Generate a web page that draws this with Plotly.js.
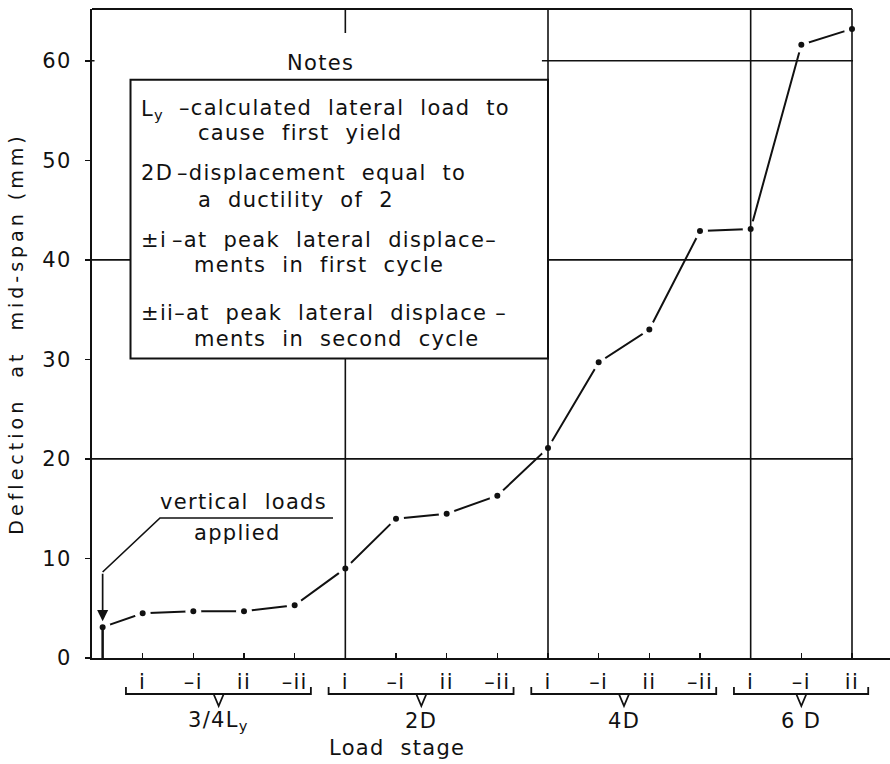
<!DOCTYPE html>
<html><head><meta charset="utf-8">
<script src="https://cdn.plot.ly/plotly-3.0.1.min.js"></script>
<style>
html,body{margin:0;padding:0;background:#fff;}
#chart{width:890px;height:764px;}
svg text{letter-spacing:1.3px;}
svg text.ytitle{letter-spacing:4px;}
</style></head><body><div id="chart"></div>
<script>
// ---- data ----
const stagePos = [1,2,3,4,5,6,7,8,9,10,11,12,13,14,15];
const stageLabels = ['i','–i','ii','–ii','i','–i','ii','–ii','i','–i','ii','–ii','i','–i','ii'];
const deflection = [4.5,4.7,4.7,5.3,9.0,14.0,14.5,16.3,21.1,29.7,33.0,42.9,43.1,61.6,63.2];
const startPos = [0.21];
const startDeflection = [3.1];
const groupNames = ['3/4L<sub>y</sub>','2D','4D','6\u00a0D'];
const groupSizes = [4,4,4,3];
const yTicks = [0,10,20,30,40,50,60];
const gridX = [5,9,13,15];
const gridY = [20,40,60];

// ---- layout helpers ----
const W=890,H=764,L=92,R=0,T=9,B=106;
const pw=W-L-R, ph=H-T-B;
const px=x=>(x-L)/pw, py=y=>(H-B-y)/ph;
const xRange=[0,15.75], yRange=[0,65.2];
const FONT='DejaVu Sans';
const ink='#111';

const xs = startPos.concat(stagePos);
const ys = startDeflection.concat(deflection);

const traces=[{
  x: xs, y: ys, type:'scatter', mode:'lines+markers',
  line:{color:ink,width:2},
  marker:{color:ink,size:11,line:{color:'#fff',width:5}},
  hoverinfo:'skip', showlegend:false, cliponaxis:false
}];

const shapes=[];
const lastX = stagePos[stagePos.length-1];
// grid lines
gridX.forEach(g=>shapes.push({type:'line',xref:'x',yref:'paper',x0:g,x1:g,y0:0,y1:1,line:{color:ink,width:1.6}}));
gridY.forEach(g=>shapes.push({type:'line',xref:'x',yref:'y',x0:0,x1:lastX+0.02,y0:g,y1:g,line:{color:ink,width:1.6}}));
// top border
shapes.push({type:'line',xref:'x',yref:'paper',x0:0,x1:lastX,y0:1,y1:1,line:{color:ink,width:2}});
// white header area behind "Notes"
shapes.push({type:'rect',xref:'x',yref:'y',x0:0.05,x1:8.88,y0:58.1,y1:62.8,fillcolor:'#fff',line:{width:0}});
// notes box
shapes.push({type:'rect',xref:'x',yref:'y',x0:0.76,x1:9,y0:30.1,y1:58.1,fillcolor:'#fff',line:{color:ink,width:2}});
// group brackets
let idx=0;
const yTop=py(687), yBot=py(694), yTip=py(706);
const annotations=[];
groupSizes.forEach((n,gi)=>{
  const a=stagePos[idx], b=stagePos[idx+n-1];
  const x0=a-0.33, x1=b+0.32, xm=(a+b)/2;
  shapes.push({type:'path',xref:'x',yref:'paper',
    path:`M${x0},${yTop} L${x0},${yBot} L${x1},${yBot} L${x1},${yTop}`,line:{color:ink,width:1.8}});
  shapes.push({type:'path',xref:'x',yref:'paper',
    path:`M${xm-0.1},${yBot} L${xm},${yTip} L${xm+0.1},${yBot}`,line:{color:ink,width:1.8}});
  annotations.push({xref:'x',yref:'paper',x:xm,y:py(721),text:groupNames[gi],showarrow:false,
    xanchor:'center',yanchor:'middle',font:{family:FONT,size:21,color:ink}});
  idx+=n;
});
// start vertical line (load applied)
shapes.push({type:'line',xref:'x',yref:'y',x0:startPos[0],x1:startPos[0],y0:0,y1:startDeflection[0],line:{color:ink,width:2.5}});
// leader for "vertical loads applied"
const sx = px(L + startPos[0]*pw/(xRange[1]-xRange[0]));
shapes.push({type:'path',xref:'paper',yref:'paper',
  path:`M${px(333)},${py(518)} L${px(160)},${py(518)} L${sx},${py(572)}`,line:{color:ink,width:1.7}});

// arrow
annotations.push({xref:'x',yref:'y',x:startPos[0],y:startDeflection[0],ax:0,ay:-55,text:'',showarrow:true,
  arrowhead:2,arrowsize:1.3,arrowwidth:1.7,arrowcolor:ink,standoff:6});

const tf=(s)=>({family:FONT,size:s,color:ink});
function note(text,x,y,anchor){annotations.push({xref:'paper',yref:'paper',x:px(x),y:py(y),text:text,showarrow:false,
  xanchor:anchor||'left',yanchor:'middle',font:tf(21)});}
note('Notes',320,63,'center');
note('L<sub>y</sub>',139,110);
note('–calculated\u00a0 lateral\u00a0 load\u00a0 to',177,108);
note('cause\u00a0 first\u00a0 yield',196,133);
note('2D',139,173);
note('–displacement\u00a0 equal\u00a0 to',175,173);
note('a\u00a0 ductility\u00a0 of\u00a0 2',196,200);
note('±i',139,240);
note('–at\u00a0 peak\u00a0 lateral\u00a0 displace–',170,240);
note('ments\u00a0 in\u00a0 first\u00a0 cycle',192,265);
note('±ii–at\u00a0 peak\u00a0 lateral\u00a0 displace\u00a0–',139,313);
note('ments\u00a0 in\u00a0 second\u00a0 cycle',192,339);
note('vertical\u00a0 loads',243,502,'center');
note('applied',237,533,'center');
note('Load\u00a0 stage',397,748,'center');

const layout={
  width:W,height:H,margin:{l:L,r:R,t:T,b:B},
  paper_bgcolor:'#fff',plot_bgcolor:'#fff',showlegend:false,
  font:{family:FONT,size:20,color:ink},
  xaxis:{range:xRange,tickmode:'array',tickvals:stagePos,ticktext:stageLabels,
    showgrid:false,zeroline:false,showline:true,linecolor:ink,linewidth:2.2,
    ticks:'inside',ticklen:5,tickwidth:1.5,tickcolor:ink,ticklabelstandoff:4,
    tickfont:tf(21),fixedrange:true},
  yaxis:{range:yRange,tickmode:'array',tickvals:yTicks,
    showgrid:false,zeroline:false,showline:true,linecolor:ink,linewidth:2.2,
    ticks:'outside',ticklen:5,tickwidth:1.5,tickcolor:ink,ticklabelstandoff:9,
    tickfont:tf(21),fixedrange:true,
    title:{text:'Deflection\u00a0 at\u00a0 mid-span\u00a0(mm)',font:tf(19),standoff:14}},
  shapes:shapes,annotations:annotations
};
Plotly.newPlot('chart',traces,layout,{staticPlot:true});
</script></body></html>
